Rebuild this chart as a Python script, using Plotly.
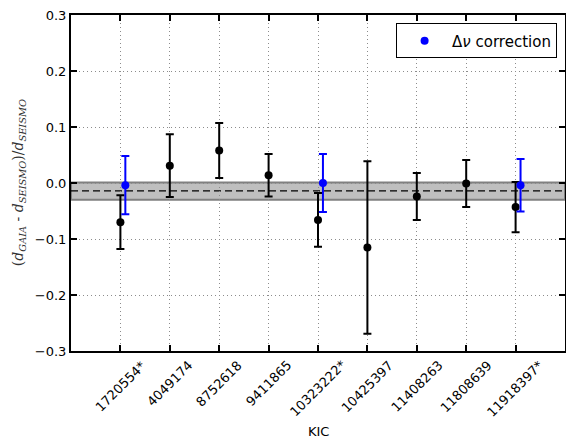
import plotly.graph_objects as go

# Data
kic = ["1720554*", "4049174", "8752618", "9411865", "10323222*",
       "10425397", "11408263", "11808639", "11918397*"]
rel_diff = [-0.070, 0.031, 0.058, 0.014, -0.066, -0.115, -0.024, -0.001, -0.043]
rel_err = [0.048, 0.056, 0.049, 0.038, 0.048, 0.154, 0.042, 0.042, 0.045]

corr_kic = ["1720554*", "10323222*", "11918397*"]
corr_diff = [-0.004, 0.000, -0.004]
corr_err = [0.052, 0.052, 0.047]

band_lo = -0.030
band_hi = 0.001
mean_line = -0.014

y_ticks = [-0.3, -0.2, -0.1, 0.0, 0.1, 0.2, 0.3]

offset = 0.1
x_main = list(range(len(kic)))
x_corr = [kic.index(k) + offset for k in corr_kic]

fig = go.Figure()

# shaded band and mean line
fig.add_shape(type="rect", xref="paper", yref="y", x0=0, x1=1, y0=band_lo, y1=band_hi,
              fillcolor="#bfbfbf", line=dict(color="#808080", width=2), layer="below")
fig.add_shape(type="line", xref="paper", yref="y", x0=0, x1=1, y0=mean_line, y1=mean_line,
              line=dict(color="black", width=1.2, dash="7px,4px"), layer="below")

fig.add_trace(go.Scatter(
    x=x_main, y=rel_diff, mode="markers", showlegend=False,
    marker=dict(color="black", size=8),
    error_y=dict(type="data", array=rel_err, color="black", thickness=2, width=4),
))
fig.add_trace(go.Scatter(
    x=x_corr, y=corr_diff, mode="markers", name="Δ<i>ν</i> correction",
    marker=dict(color="#0000ff", size=8),
    error_y=dict(type="data", array=corr_err, color="#0000ff", thickness=2, width=4),
))

# rotated, center-aligned category labels
for i, lab in enumerate(kic):
    fig.add_annotation(x=i, y=-0.012, xref="x", yref="paper", text=lab, showarrow=False,
                       textangle=-45, xanchor="center", yanchor="top",
                       font=dict(family="DejaVu Sans", size=13, color="black"))

fig.add_annotation(x=0.5, y=-0.24, xref="paper", yref="paper", text="KIC", showarrow=False,
                   xanchor="center", yanchor="middle",
                   font=dict(family="DejaVu Sans", size=13, color="black"))

fig.add_annotation(x=-0.105, y=0.5, xref="paper", yref="paper",
                   text="(<i>d</i><sub><i>GAIA</i></sub> - <i>d</i><sub><i>SEISMO</i></sub>)/<i>d</i><sub><i>SEISMO</i></sub>",
                   showarrow=False, textangle=-90, xanchor="center", yanchor="middle",
                   font=dict(family="DejaVu Serif", size=14, color="#333"))

fig.update_layout(
    width=566, height=439,
    margin=dict(l=71, r=1, t=15, b=88, autoexpand=False),
    plot_bgcolor="white", paper_bgcolor="white",
    font=dict(family="DejaVu Sans", size=13, color="black"),
    legend=dict(x=0.984, y=0.975, xanchor="right", yanchor="top", itemwidth=45,
                bgcolor="white", bordercolor="black", borderwidth=1,
                font=dict(family="DejaVu Sans", size=15, color="black")),
    xaxis=dict(range=[-1, len(kic)], tickvals=x_main, ticktext=kic, showticklabels=False,
               automargin=False,
               showline=True, linecolor="black", linewidth=2, mirror="ticks",
               ticks="inside", ticklen=6, tickwidth=1.5, tickcolor="black",
               showgrid=True, gridcolor="#8c8c8c", griddash="1px,3px", gridwidth=1,
               zeroline=False),
    yaxis=dict(range=[-0.3, 0.3], tickvals=y_ticks, tickformat=".1f", automargin=False,
               showline=True, linecolor="black", linewidth=2, mirror="ticks",
               ticks="inside", ticklen=6, tickwidth=1.5, tickcolor="black",
               showgrid=True, gridcolor="#8c8c8c", griddash="1px,3px", gridwidth=1,
               zeroline=False, tickfont=dict(size=13)),
)

fig.write_html("out.html", config={"displayModeBar": False},
               post_script="document.body.style.margin='0';document.body.style.overflow='hidden';")
